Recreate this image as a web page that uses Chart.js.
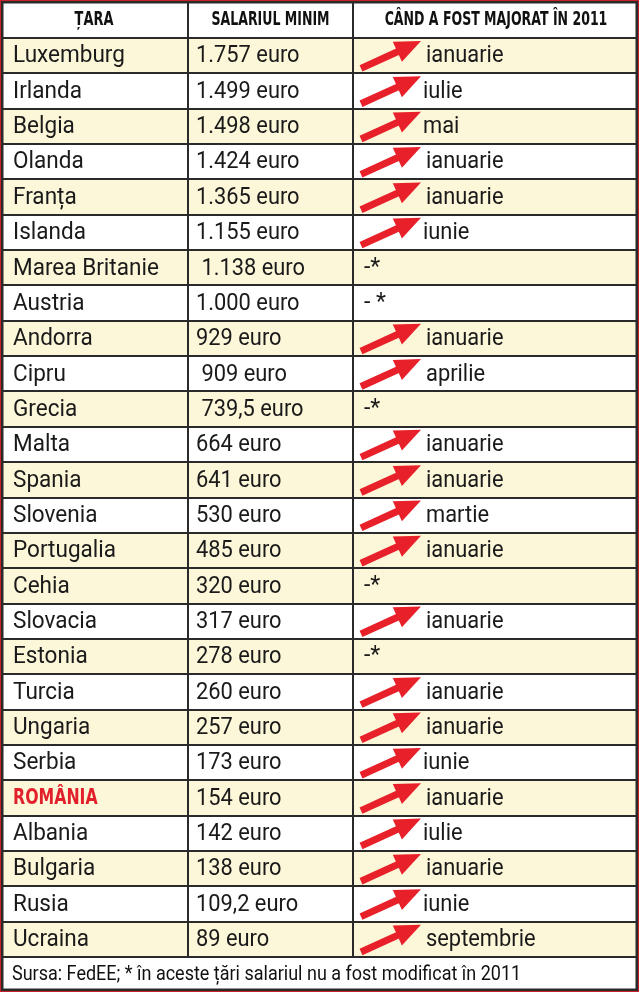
<!DOCTYPE html>
<html>
<head>
<meta charset="utf-8">
<script src="https://cdn.jsdelivr.net/npm/chart.js@4"></script>
<style>
  body { margin: 0; background: #fff; }
  #wrap { width: 639px; height: 993px; }
</style>
</head>
<body>
<div id="wrap"><canvas id="tabel" width="639" height="993"></canvas></div>
<script>
const headers = ['ȚARA', 'SALARIUL MINIM', 'CÂND A FOST MAJORAT ÎN 2011'];
const tari = ['Luxemburg', 'Irlanda', 'Belgia', 'Olanda', 'Franța', 'Islanda', 'Marea Britanie', 'Austria',
  'Andorra', 'Cipru', 'Grecia', 'Malta', 'Spania', 'Slovenia', 'Portugalia', 'Cehia', 'Slovacia', 'Estonia',
  'Turcia', 'Ungaria', 'Serbia', 'ROMÂNIA', 'Albania', 'Bulgaria', 'Rusia', 'Ucraina'];
const salarii = [1757, 1499, 1498, 1424, 1365, 1155, 1138, 1000, 929, 909, 739.5, 664, 641, 530, 485, 320,
  317, 278, 260, 257, 173, 154, 142, 138, 109.2, 89];
const salariiText = ['1.757 euro', '1.499 euro', '1.498 euro', '1.424 euro', '1.365 euro', '1.155 euro',
  ' 1.138 euro', '1.000 euro', '929 euro', ' 909 euro', ' 739,5 euro', '664 euro', '641 euro', '530 euro',
  '485 euro', '320 euro', '317 euro', '278 euro', '260 euro', '257 euro', '173 euro', '154 euro', '142 euro',
  '138 euro', '109,2 euro', '89 euro'];
const luni = ['ianuarie', 'iulie', 'mai', 'ianuarie', 'ianuarie', 'iunie', '-*', '- *', 'ianuarie', 'aprilie',
  '-*', 'ianuarie', 'ianuarie', 'martie', 'ianuarie', '-*', 'ianuarie', '-*', 'ianuarie', 'ianuarie', 'iunie',
  'ianuarie', 'iulie', 'ianuarie', 'iunie', 'septembrie'];
const randGalben = [1, 0, 1, 0, 1, 0, 1, 0, 1, 0, 1, 0, 1, 0, 1, 1, 0, 1, 0, 1, 0, 1, 0, 1, 0, 1];
const sursa = 'Sursa: FedEE; * în aceste țări salariul nu a fost modificat în 2011';

const col1 = 188, col2 = 353;

function textIngust(c, txt, x, y, sx) {
  c.save();
  c.translate(x, y);
  c.scale(sx, 1);
  c.fillText(txt, 0, 0);
  c.restore();
}

const tablePlugin = {
  id: 'tablePlugin',
  afterDraw(chart) {
    const c = chart.ctx;
    const area = chart.chartArea;
    const y = chart.scales.y;
    const W = chart.width, H = chart.height;
    const rowH = y.getPixelForValue(1) - y.getPixelForValue(0);
    c.save();
    c.fillStyle = '#fff';
    c.fillRect(0, 0, W, H);
    tari.forEach((t, i) => {
      const cy = y.getPixelForValue(i);
      const top = cy - rowH / 2;
      c.fillStyle = randGalben[i] ? '#fdf7d9' : '#ffffff';
      c.fillRect(0, top, W, rowH);
      c.textBaseline = 'middle';
      c.textAlign = 'left';
      if (t === 'ROMÂNIA') {
        c.fillStyle = '#e2202c';
        c.font = 'bold 21px "DejaVu Sans", sans-serif';
        textIngust(c, t, 13, cy + 1, 0.75);
      } else {
        c.fillStyle = '#1a1a1a';
        c.font = '23px Roboto, sans-serif';
        textIngust(c, t, 13, cy + 1, 0.98);
      }
      c.fillStyle = '#1a1a1a';
      c.font = '23px Roboto, sans-serif';
      textIngust(c, salariiText[i], 196, cy + 1, 0.95);
      const l = luni[i];
      if (l.indexOf('-') === 0) {
        c.fillText(l, 364, cy);
      } else {
        const x0 = 361, y0 = top + rowH - 5, x1 = 421, y1 = top + 3;
        const ang = Math.atan2(y1 - y0, x1 - x0);
        c.fillStyle = '#e8202a';
        c.strokeStyle = '#e8202a';
        c.lineWidth = 7;
        c.beginPath();
        c.moveTo(x0, y0);
        c.lineTo(x1 - 18 * Math.cos(ang), y1 - 18 * Math.sin(ang));
        c.stroke();
        c.beginPath();
        c.moveTo(x1, y1);
        c.lineTo(x1 - 26 * Math.cos(ang) + 11 * Math.sin(ang), y1 - 26 * Math.sin(ang) - 11 * Math.cos(ang));
        c.lineTo(x1 - 26 * Math.cos(ang) - 11 * Math.sin(ang), y1 - 26 * Math.sin(ang) + 11 * Math.cos(ang));
        c.closePath();
        c.fill();
        c.fillStyle = '#1a1a1a';
        textIngust(c, l, l === 'iulie' || l === 'mai' || l === 'iunie' ? 423 : 426, cy + 1, 0.95);
      }
    });
    // antet
    c.fillStyle = '#111';
    c.font = 'bold 19px "DejaVu Sans", sans-serif';
    c.textAlign = 'center';
    c.textBaseline = 'middle';
    const hy = area.top / 2 + 1;
    textIngust(c, headers[0], col1 / 2, hy, 0.68);
    textIngust(c, headers[1], (col1 + col2) / 2, hy, 0.66);
    textIngust(c, headers[2], (col2 + W) / 2, hy, 0.66);
    // sursa
    c.textAlign = 'left';
    c.font = '20px Roboto, sans-serif';
    textIngust(c, sursa, 12, (area.bottom + H) / 2, 0.9);
    // linii
    c.strokeStyle = '#2a2a2a';
    c.lineWidth = 2;
    c.beginPath();
    for (let i = 0; i <= tari.length; i++) {
      const ly = Math.round(y.getPixelForValue(i) - rowH / 2);
      c.moveTo(0, ly); c.lineTo(W, ly);
    }
    c.moveTo(col1, 0); c.lineTo(col1, area.bottom);
    c.moveTo(col2, 0); c.lineTo(col2, area.bottom);
    c.stroke();
    c.lineWidth = 3;
    c.strokeRect(2, 2, W - 4, H - 5);
    c.strokeStyle = '#c8202a';
    c.lineWidth = 1;
    c.strokeRect(0.5, 0.5, W - 1, H - 2);
    c.restore();
  }
};

new Chart(document.getElementById('tabel'), {
  type: 'bar',
  data: {
    labels: tari,
    datasets: [{ data: salarii, backgroundColor: 'rgba(0,0,0,0)' }]
  },
  options: {
    indexAxis: 'y',
    responsive: false,
    animation: false,
    layout: { padding: { top: 38, bottom: 36, left: 0, right: 0 } },
    plugins: { legend: { display: false }, tooltip: { enabled: false } },
    scales: {
      x: { display: false, min: 0, max: 2000 },
      y: { display: false }
    }
  },
  plugins: [tablePlugin]
});
</script>
</body>
</html>
